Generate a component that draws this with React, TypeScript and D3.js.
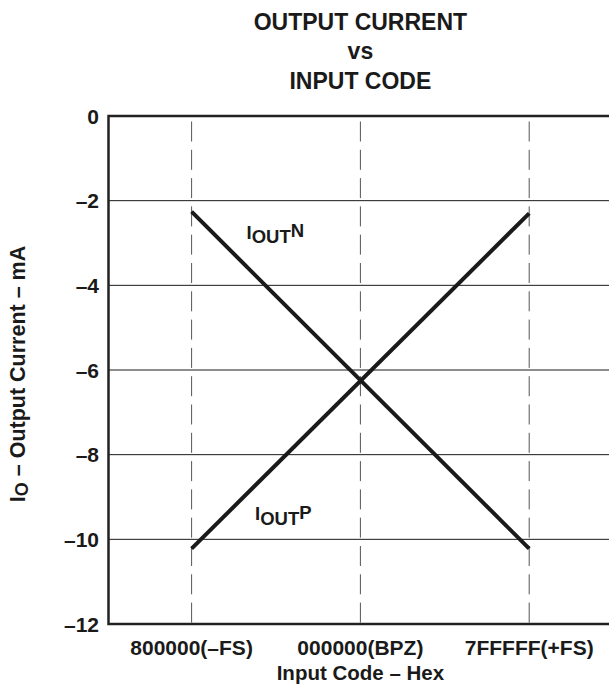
import React from "react";
import * as d3 from "d3";

const codeLabels = ["800000(–FS)", "000000(BPZ)", "7FFFFF(+FS)"];
const codePos = [-1, 0, 1];
const yTicks = [0, -2, -4, -6, -8, -10, -12];
const ioutN = [
  { x: -1, y: -2.26 },
  { x: 1, y: -10.22 },
];
const ioutP = [
  { x: -1, y: -10.22 },
  { x: 1, y: -2.3 },
];

const W = 609;
const H = 685;
const font = "'Liberation Sans', Arial, sans-serif";
const ink = "#1a1a1a";

export default function App() {
  const left = 108.5;
  const right = 612.5;
  const top = 116;
  const bottom = 624;

  // dashed code lines sit at 191.6 / 360.4 / 529.2
  const x = d3.scaleLinear().domain([-1, 1]).range([191.6, 529.2]);
  const y = d3.scaleLinear().domain([0, -12]).range([top, bottom]);
  const line = d3
    .line<{ x: number; y: number }>()
    .x((d) => x(d.x))
    .y((d) => y(d.y));
  const cx = x(0);

  return (
    <svg
      width={W}
      height={H}
      style={{ position: "absolute", left: 0, top: 0 }}
      fontFamily={font}
      fontWeight="bold"
    >
      <rect width={W} height={H} fill="#fff" />

      {/* title */}
      <g fontSize={23} textAnchor="middle" fill={ink}>
        <text x={cx} y={30}>OUTPUT CURRENT</text>
        <text x={cx} y={59}>vs</text>
        <text x={cx} y={89}>INPUT CODE</text>
      </g>

      {/* horizontal grid */}
      {yTicks
        .filter((t) => t !== 0 && t !== -12)
        .map((t) => (
          <line
            key={t}
            x1={left}
            x2={right}
            y1={y(t)}
            y2={y(t)}
            stroke={ink}
            strokeWidth={1}
          />
        ))}

      {/* dashed verticals */}
      {codePos.map((c) => (
        <line
          key={c}
          x1={x(c)}
          x2={x(c)}
          y1={top + 5.5}
          y2={bottom}
          stroke="#555"
          strokeWidth={1}
          strokeDasharray="20,8.3"
        />
      ))}

      {/* frame */}
      <path
        d={`M${right},${top}H${left}V${bottom}H${right}`}
        fill="none"
        stroke="#222"
        strokeWidth={2.5}
      />

      {/* series */}
      <path d={line(ioutN) ?? ""} fill="none" stroke={ink} strokeWidth={4} />
      <path d={line(ioutP) ?? ""} fill="none" stroke={ink} strokeWidth={4} />

      <g fill={ink} fontSize={18.5}>
        <text x={246.5} y={238.5}>
          I<tspan dy={4.5}>OUT</tspan>
          <tspan dy={-6}>N</tspan>
        </text>
        <text x={255} y={519.5}>
          I<tspan dy={5}>OUT</tspan>
          <tspan dy={-6}>P</tspan>
        </text>
      </g>

      {/* y tick labels */}
      <g fontSize={21} textAnchor="end" fill={ink}>
        {yTicks.map((t) => (
          <text key={t} x={99} y={y(t) + 7.5}>
            {t === 0 ? "0" : "–" + Math.abs(t)}
          </text>
        ))}
      </g>

      {/* x tick labels */}
      <g fontSize={21} textAnchor="middle" fill={ink}>
        {codePos.map((c, i) => (
          <text key={c} x={x(c)} y={655}>
            {codeLabels[i]}
          </text>
        ))}
      </g>

      <text x={cx} y={680} fontSize={20.5} textAnchor="middle" fill={ink}>
        Input Code – Hex
      </text>

      <text
        transform={`translate(25,374) rotate(-90)`}
        fontSize={21.5}
        textAnchor="middle"
        fill={ink}
      >
        I<tspan fontSize={18} dy={3}>O</tspan>
        <tspan dy={-3}> – Output Current – mA</tspan>
      </text>
    </svg>
  );
}
